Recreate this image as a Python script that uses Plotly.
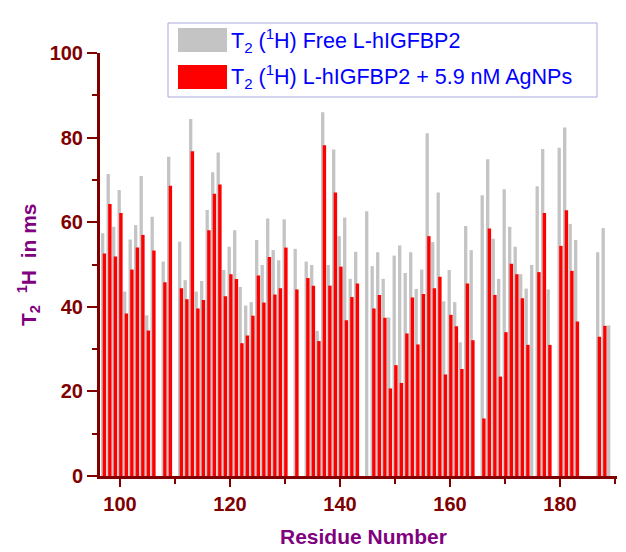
import plotly.graph_objects as go

# ---- data ----
residues = list(range(97, 190))
free_t2 = [57.4, 71.4, 58.9, 67.6, 43.6, 55.9, 59.3, 70.9, 38.0, 61.3,   # 97-106
           None, 50.7, 75.5, None, 55.4, 46.3, 84.4, 43.6, 46.1, 62.9,   # 107-116
           71.8, 76.5, 48.7, 54.2, 58.1, 44.7, 40.3, 41.1, 55.8, 49.9,   # 117-126
           60.9, 53.4, 51.0, 60.7, None, 53.7, None, 50.7, 49.9, 34.3,   # 127-136
           86.0, 49.9, 77.2, 56.7, 61.1, 46.6, 53.0, None, 62.6, 49.6,   # 137-146
           52.9, 46.6, 37.5, 52.1, 54.5, 48.0, 52.9, 44.2, 48.8, 81.0,   # 147-156
           55.3, 67.0, 41.3, 48.7, 41.1, 31.6, 59.1, 53.4, None, 66.4,   # 157-166
           74.9, 56.1, 46.6, 67.8, 58.9, 54.2, 47.7, 44.3, 49.9, 68.5,   # 167-176
           77.3, 44.1, None, 77.6, 82.4, 59.6, 55.8, None, None, None,   # 177-186
           52.9, 58.6, 35.6]                                             # 187-189
agnp_t2 = [52.6, 64.3, 51.9, 62.2, 38.4, 48.8, 54.0, 57.0, 34.4, 53.3,
           None, 45.8, 68.6, None, 44.4, 41.8, 76.8, 39.6, 41.6, 58.1,
           66.7, 68.9, 42.5, 47.7, 46.6, 31.4, 33.2, 37.9, 47.4, 41.0,
           51.8, 42.9, 44.4, 54.0, None, 44.1, None, 46.8, 45.0, 31.9,
           78.2, 45.0, 67.0, 49.5, 36.8, 42.3, 45.5, None, None, 39.6,
           42.8, 37.4, 20.7, 26.2, 22.0, 33.7, 42.2, 31.1, 43.0, 56.7,
           44.4, 47.1, 24.0, 38.1, 35.4, 25.3, 45.5, 32.1, None, 13.6,
           58.5, 42.8, 23.5, 34.0, 50.2, 47.7, 42.0, 31.0, None, 48.2,
           62.2, 31.0, None, 54.4, 62.8, 48.5, 36.5, None, None, None,
           32.9, 35.5, None]
x_ticks = [100, 120, 140, 160, 180]
y_ticks = [0, 20, 40, 60, 80, 100]
legend_labels = ["T<sub>2</sub> (<sup>1</sup>H) Free L-hIGFBP2",
                 "T<sub>2</sub> (<sup>1</sup>H) L-hIGFBP2 + 5.9 nM AgNPs"]
x_title = "Residue Number"
y_title = "T<sub>2</sub>  <sup>1</sup>H  in ms"

# ---- styling ----
AX = "#800000"
GREY = "#C4C4C4"
RED = "#FF0000"
FONT = "Arial, Liberation Sans, sans-serif"
W_FIG, H_FIG = 626, 552
L, R, T, B = 100, 9, 53, 76
PW, PH = W_FIG - L - R, H_FIG - T - B


def px(x):
    return (x - L) / PW


def py(y):
    return (H_FIG - B - y) / PH


fig = go.Figure()
fig.add_trace(go.Bar(x=residues, y=free_t2, width=0.6, offset=-0.45,
                     marker=dict(color=GREY, line=dict(width=0)),
                     name=legend_labels[0], showlegend=False))
fig.add_trace(go.Bar(x=residues, y=agnp_t2, width=0.62, offset=-0.15,
                     marker=dict(color=RED, line=dict(width=0)),
                     name=legend_labels[1], showlegend=False))

tickfont = dict(family=FONT, size=20, color=AX, weight="bold")
fig.update_xaxes(range=[96.36, 190.36], tickvals=x_ticks,
                 showgrid=False, zeroline=False, showline=True,
                 linecolor=AX, linewidth=3, ticks="outside",
                 tickcolor=AX, tickwidth=2, ticklen=8, tickfont=tickfont,
                 minor=dict(dtick=10, tick0=0, ticks="outside", ticklen=5,
                            tickcolor=AX, tickwidth=2))
fig.update_yaxes(range=[0, 100], tickvals=y_ticks,
                 showgrid=False, zeroline=False, showline=True,
                 linecolor=AX, linewidth=3, ticks="outside",
                 tickcolor=AX, tickwidth=2, ticklen=10, tickfont=tickfont,
                 minor=dict(dtick=10, tick0=0, ticks="outside", ticklen=5,
                            tickcolor=AX, tickwidth=2))

shapes = [
    dict(type="rect", xref="paper", yref="paper",
         x0=px(168), x1=px(597), y0=py(97), y1=py(23),
         line=dict(color="#A9A9DD", width=1), fillcolor="white", layer="above"),
    dict(type="rect", xref="paper", yref="paper",
         x0=px(178), x1=px(227), y0=py(52), y1=py(28),
         line=dict(width=0), fillcolor=GREY, layer="above"),
    dict(type="rect", xref="paper", yref="paper",
         x0=px(178), x1=px(227), y0=py(89), y1=py(65),
         line=dict(width=0), fillcolor=RED, layer="above"),
]
annotations = [
    dict(text=legend_labels[0], xref="paper", yref="paper", x=px(229), y=py(40),
         xanchor="left", yanchor="middle", showarrow=False,
         font=dict(family=FONT, size=21.5, color="#0000FF")),
    dict(text=legend_labels[1], xref="paper", yref="paper", x=px(229), y=py(77),
         xanchor="left", yanchor="middle", showarrow=False,
         font=dict(family=FONT, size=21.5, color="#0000FF")),
    dict(text=x_title, xref="paper", yref="paper", x=px(363), y=py(536),
         xanchor="center", yanchor="middle", showarrow=False,
         font=dict(family=FONT, size=21, color="#800080", weight="bold")),
    dict(text=y_title, xref="paper", yref="paper", x=px(28), y=py(265),
         xanchor="center", yanchor="middle", showarrow=False, textangle=-90,
         font=dict(family=FONT, size=21, color="#800080", weight="bold")),
]

fig.update_layout(width=W_FIG, height=H_FIG, barmode="overlay",
                  margin=dict(l=L, r=R, t=T, b=B, pad=0),
                  paper_bgcolor="white", plot_bgcolor="white",
                  shapes=shapes, annotations=annotations, showlegend=False)

fig.write_html("out.html")
